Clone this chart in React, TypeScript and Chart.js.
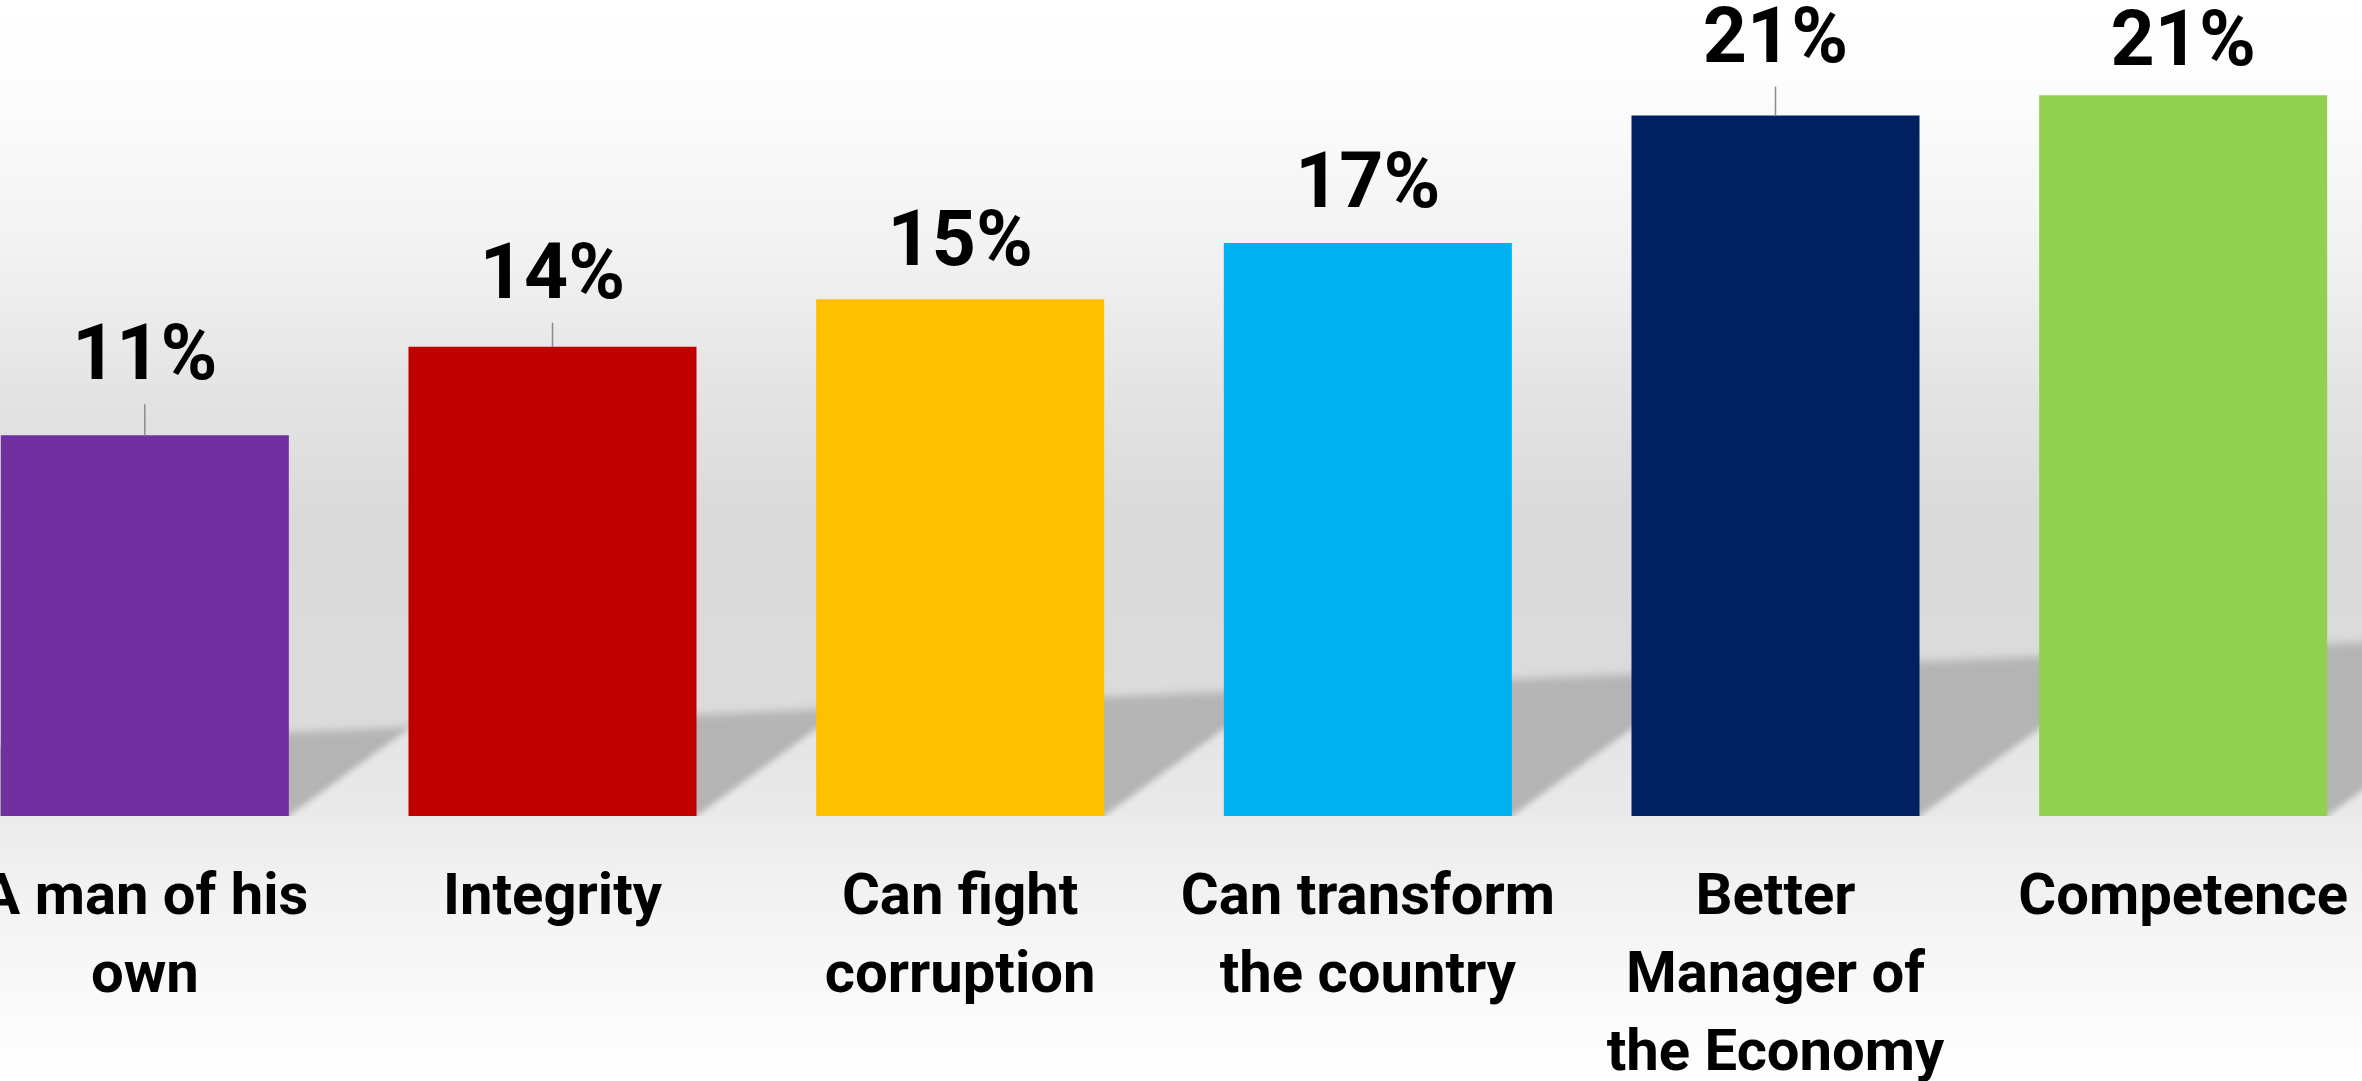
import React, { useEffect, useRef } from "react";
import { Chart, registerables } from "chart.js";

Chart.register(...registerables);

// ---- data ----
const CATEGORIES: string[][] = [
  ["A man of his", "own"],
  ["Integrity"],
  ["Can fight", "corruption"],
  ["Can transform", "the country"],
  ["Better", "Manager of", "the Economy"],
  ["Competence"],
];
const VALUES: number[] = [11.2, 13.8, 15.2, 16.85, 20.6, 21.2];
const BAR_COLORS: string[] = ["#7030A0", "#C00000", "#FFC000", "#00B0F0", "#002060", "#92D050"];
const Y_MAX = 24;

// ---- style ----
const FONT = "Roboto, 'Liberation Sans', sans-serif";
const LABEL_LIFT: number[] = [56, 49, 34, 36, 54, 30]; // px from bar top to label baseline
const CANVAS_W = 2446;
const CANVAS_H = 1081;
const CANVAS_LEFT = -59;

const backgroundPlugin = {
  id: "pptBackground",
  beforeDraw(chart: any) {
    const { ctx, chartArea } = chart;
    const W = chart.width;
    const H = chart.height;
    const base = chartArea.bottom;
    ctx.save();
    const g = ctx.createLinearGradient(0, 0, 0, H);
    const f = (y: number) => Math.min(1, Math.max(0, y / H));
    g.addColorStop(0, "#ffffff");
    g.addColorStop(f(100), "#fcfcfc");
    g.addColorStop(f(250), "#f2f2f2");
    g.addColorStop(f(400), "#e3e3e3");
    g.addColorStop(f(520), "#dadada");
    g.addColorStop(f(base), "#dddddd");
    g.addColorStop(f(base + 0.5), "#ebebeb");
    g.addColorStop(f(base + 90), "#f3f3f3");
    g.addColorStop(f(base + 190), "#fafafa");
    g.addColorStop(1, "#ffffff");
    ctx.fillStyle = g;
    ctx.fillRect(0, 0, W, H);

    ctx.save();
    ctx.beginPath();
    ctx.rect(0, 0, W, base);
    ctx.clip();
    const off = -CANVAS_LEFT;
    const bandTop = (x: number) => 745 - 0.0435 * (x - off);
    ctx.filter = "blur(4px)";
    ctx.fillStyle = "#b4b4b4";
    ctx.beginPath();
    ctx.moveTo(-20, bandTop(-20));
    ctx.lineTo(W + 20, bandTop(W + 20));
    ctx.lineTo(W + 20, base + 20);
    ctx.lineTo(-20, base + 20);
    ctx.closePath();
    ctx.fill();
    const meta = chart.getDatasetMeta(0);
    const lg = ctx.createLinearGradient(0, base - 100, 0, base);
    lg.addColorStop(0, "#e4e4e4");
    lg.addColorStop(1, "#eaeaea");
    ctx.fillStyle = lg;
    ctx.filter = "blur(3px)";
    const slope = 0.73;
    meta.data.forEach((el: any) => {
      const right = el.x + el.width / 2;
      const len = 220;
      ctx.beginPath();
      ctx.moveTo(right, base + 10);
      ctx.lineTo(right, base);
      ctx.lineTo(right + len, base - len * slope);
      ctx.lineTo(right + len, base + 10);
      ctx.closePath();
      ctx.fill();
    });
    ctx.restore();
    ctx.restore();
  },
};

const valueLabelPlugin = {
  id: "valueLabels",
  afterDatasetsDraw(chart: any) {
    const { ctx } = chart;
    const meta = chart.getDatasetMeta(0);
    ctx.save();
    ctx.font = `bold 77px ${FONT}`;
    ctx.textAlign = "center";
    ctx.textBaseline = "alphabetic";
    meta.data.forEach((el: any, i: number) => {
      const lift = LABEL_LIFT[i];
      const baseY = el.y - lift;
      if (lift > 45) {
        ctx.strokeStyle = "#8a8a8a";
        ctx.lineWidth = 1.5;
        ctx.beginPath();
        ctx.moveTo(el.x, el.y);
        ctx.lineTo(el.x, baseY + 25);
        ctx.stroke();
      }
      ctx.fillStyle = "#000000";
      ctx.fillText(`${Math.round(VALUES[i])}%`, el.x, baseY);
    });
    ctx.restore();
  },
};

export default function App() {
  const ref = useRef<HTMLCanvasElement | null>(null);
  useEffect(() => {
    const canvas = ref.current;
    if (!canvas) return;
    canvas.width = CANVAS_W;
    canvas.height = CANVAS_H;
    const chart = new Chart(canvas, {
      type: "bar",
      data: {
        labels: CATEGORIES,
        datasets: [
          {
            data: VALUES,
            backgroundColor: BAR_COLORS,
            borderWidth: 0,
            barPercentage: 0.7065,
            categoryPercentage: 1,
          },
        ],
      },
      options: {
        responsive: false,
        animation: false,
        devicePixelRatio: 1,
        layout: { padding: 0 },
        plugins: { legend: { display: false }, tooltip: { enabled: false } },
        scales: {
          x: {
            grid: { display: false, drawTicks: false },
            border: { display: false },
            ticks: {
              color: "#000000",
              padding: 44,
              maxRotation: 0,
              autoSkip: false,
              font: { family: FONT, size: 58, weight: "bold", lineHeight: 78 / 58 },
            },
            afterFit: (s: any) => {
              s.height = 265;
              s.paddingLeft = 0;
              s.paddingRight = 0;
            },
          },
          y: { display: false, min: 0, max: Y_MAX },
        },
      },
      plugins: [backgroundPlugin, valueLabelPlugin],
    } as any);
    return () => chart.destroy();
  }, []);
  return (
    <div
      style={{
        position: "fixed",
        left: 0,
        top: 0,
        width: 2362,
        height: 1081,
        overflow: "hidden",
        background: "#ffffff",
      }}
    >
      <canvas
        ref={ref}
        style={{ position: "absolute", left: CANVAS_LEFT, top: 0, width: CANVAS_W, height: CANVAS_H }}
      />
    </div>
  );
}
